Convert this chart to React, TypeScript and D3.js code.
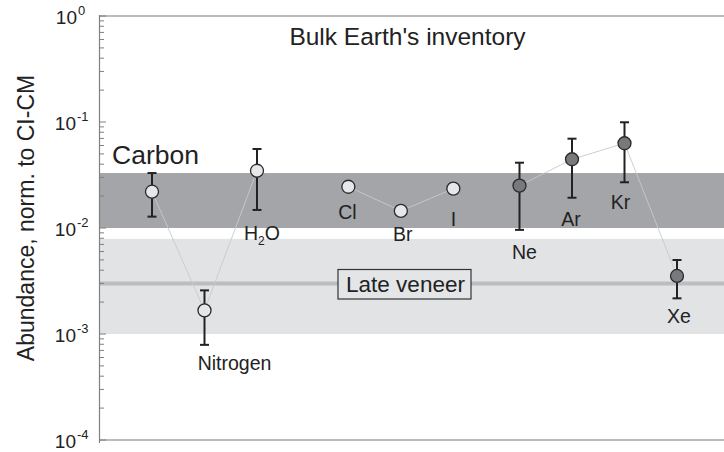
import {useEffect} from 'react';
import * as d3 from 'd3';

// element names, their slot along the x axis, abundance and error range
const species = ['Carbon', 'Nitrogen', 'H2O', 'Cl', 'Br', 'I', 'Ne', 'Ar', 'Kr', 'Xe'];
const slots = [1, 2, 3, 4.74, 5.74, 6.74, 8, 9, 10, 11];
const abundance = [0.022, 0.00167, 0.0347, 0.0245, 0.0145, 0.0235, 0.0251, 0.0445, 0.063, 0.00353];
const errLow = [0.0128, 0.00079, 0.0148, null, null, null, 0.0096, 0.0193, 0.027, 0.00217];
const errHigh = [0.033, 0.00258, 0.0556, null, null, null, 0.0413, 0.0696, 0.0994, 0.00499];
const noble = [false, false, false, false, false, false, true, true, true, true];
// connected groups (indices into species)
const groups = [[0, 1, 2], [3, 4, 5], [6, 7, 8, 9]];

// reservoirs
const carbonBand = [0.01, 0.033];
const veneerBand = [0.001, 0.0079];
const veneerLevel = 0.003;

const yTicks = [1, 0.1, 0.01, 0.001, 0.0001];

// label placement relative to the marker (pixels)
const labelOffset: {[k: string]: [number, number]} = {
  Nitrogen: [30, 60], H2O: [5, 69], Cl: [-1, 32], Br: [2, 30], I: [0, 37],
  Ne: [5, 73], Ar: [-1, 67], Kr: [-4, 66], Xe: [2, 47],
};

const W = 724, H = 452;
const left = 100, top = 16, bottom = 440;
const font = 'Liberation Sans, Arial, Helvetica, sans-serif';

export default function App() {
  useEffect(() => {
    document.body.style.margin = '0';
  }, []);

  const y = d3.scaleLog().domain([1e-4, 1]).range([bottom, top]);
  const x = d3.scaleLinear().domain([0, 12]).range([99.5, 729.5]);

  const minor: number[] = [];
  for (let e = -4; e < 0; e++) for (let m = 2; m <= 9; m++) minor.push(m * Math.pow(10, e));

  const line = d3.line<number>().x(i => x(slots[i])).y(i => y(abundance[i]));

  return (
    <svg width={W} height={H} style={{display: 'block', fontFamily: font}}>
      {/* reservoirs */}
      <rect x={left} width={W - left} y={y(veneerBand[1])} height={y(veneerBand[0]) - y(veneerBand[1])} fill="#e2e3e5" />
      <rect x={left} width={W - left} y={y(carbonBand[1])} height={y(carbonBand[0]) - y(carbonBand[1])} fill="#a3a5a8" />
      <line x1={left} x2={W} y1={y(veneerLevel)} y2={y(veneerLevel)} stroke="#bcbdc0" strokeWidth={4} />

      {/* frame */}
      <line x1={left} x2={W} y1={top} y2={top} stroke="#bbbbbb" strokeWidth={2} />
      <line x1={left} x2={W} y1={bottom} y2={bottom} stroke="#bbbbbb" strokeWidth={2} />
      <line x1={left - 0.5} x2={left - 0.5} y1={top - 1} y2={bottom + 3} stroke="#808080" strokeWidth={1.2} />
      {minor.map((v, i) => (
        <line key={'m' + i} x1={left} x2={left + 4} y1={y(v)} y2={y(v)} stroke="#808080" strokeWidth={1} />
      ))}
      {yTicks.map((v, i) => {
        const e = Math.round(Math.log10(v));
        return (
          <g key={'t' + i}>
            <line x1={left} x2={left + 6} y1={y(v)} y2={y(v)} stroke="#808080" strokeWidth={1} />
            <text x={e === 0 ? 77 : 76} y={y(v) + 8} textAnchor="end" fontSize={19} fill="#222">10</text>
            <text x={e === 0 ? 78 : 77} y={y(v) - 1} fontSize={13} fill="#222">{e}</text>
          </g>
        );
      })}
      <text transform={`translate(34,${(top + bottom) / 2 - 10}) rotate(-90)`} textAnchor="middle" fontSize={23} fill="#222">
        Abundance, norm. to CI-CM
      </text>

      <text x={407.5} y={45} textAnchor="middle" fontSize={24.5} fill="#222">Bulk Earth's inventory</text>

      {/* late veneer label */}
      <rect x={338} y={269.5} width={133} height={29.5} fill="#e4e5e7" stroke="#333" strokeWidth={1.2} />
      <text x={405.5} y={292} textAnchor="middle" fontSize={22.5} fill="#222">Late veneer</text>

      {/* connecting lines */}
      {groups.map((g, i) => (
        <path key={'g' + i} d={line(g) || ''} fill="none" stroke="#c6cbcb" strokeWidth={0.9} />
      ))}

      {/* error bars */}
      {species.map((s, i) => {
        const lo = errLow[i], hi = errHigh[i];
        if (lo == null || hi == null) return null;
        const cx = x(slots[i]);
        return (
          <g key={'e' + s} stroke="#222" strokeWidth={2}>
            <line x1={cx} x2={cx} y1={y(lo)} y2={y(hi)} />
            <line x1={cx - 4.5} x2={cx + 4.5} y1={y(lo)} y2={y(lo)} />
            <line x1={cx - 4.5} x2={cx + 4.5} y1={y(hi)} y2={y(hi)} />
          </g>
        );
      })}

      {/* markers */}
      {species.map((s, i) => (
        <circle key={'c' + s} cx={x(slots[i])} cy={y(abundance[i])} r={6.5}
          fill={noble[i] ? '#78797c' : '#e6e7e9'} stroke="#2a2a2a" strokeWidth={1.3} />
      ))}

      {/* labels */}
      <text x={x(slots[0]) - 40} y={y(abundance[0]) - 28} fontSize={26.5} fill="#222">Carbon</text>
      {species.slice(1).map(s => {
        const i = species.indexOf(s);
        const [dx, dy] = labelOffset[s];
        const lx = x(slots[i]) + dx, ly = y(abundance[i]) + dy;
        if (s === 'H2O') {
          return (
            <text key={'l' + s} x={lx} y={ly} textAnchor="middle" fontSize={19.5} fill="#222">
              H<tspan fontSize={12} dy={5}>2</tspan><tspan dy={-5}>O</tspan>
            </text>
          );
        }
        return <text key={'l' + s} x={lx} y={ly} textAnchor="middle" fontSize={19.5} fill="#222">{s}</text>;
      })}
    </svg>
  );
}
